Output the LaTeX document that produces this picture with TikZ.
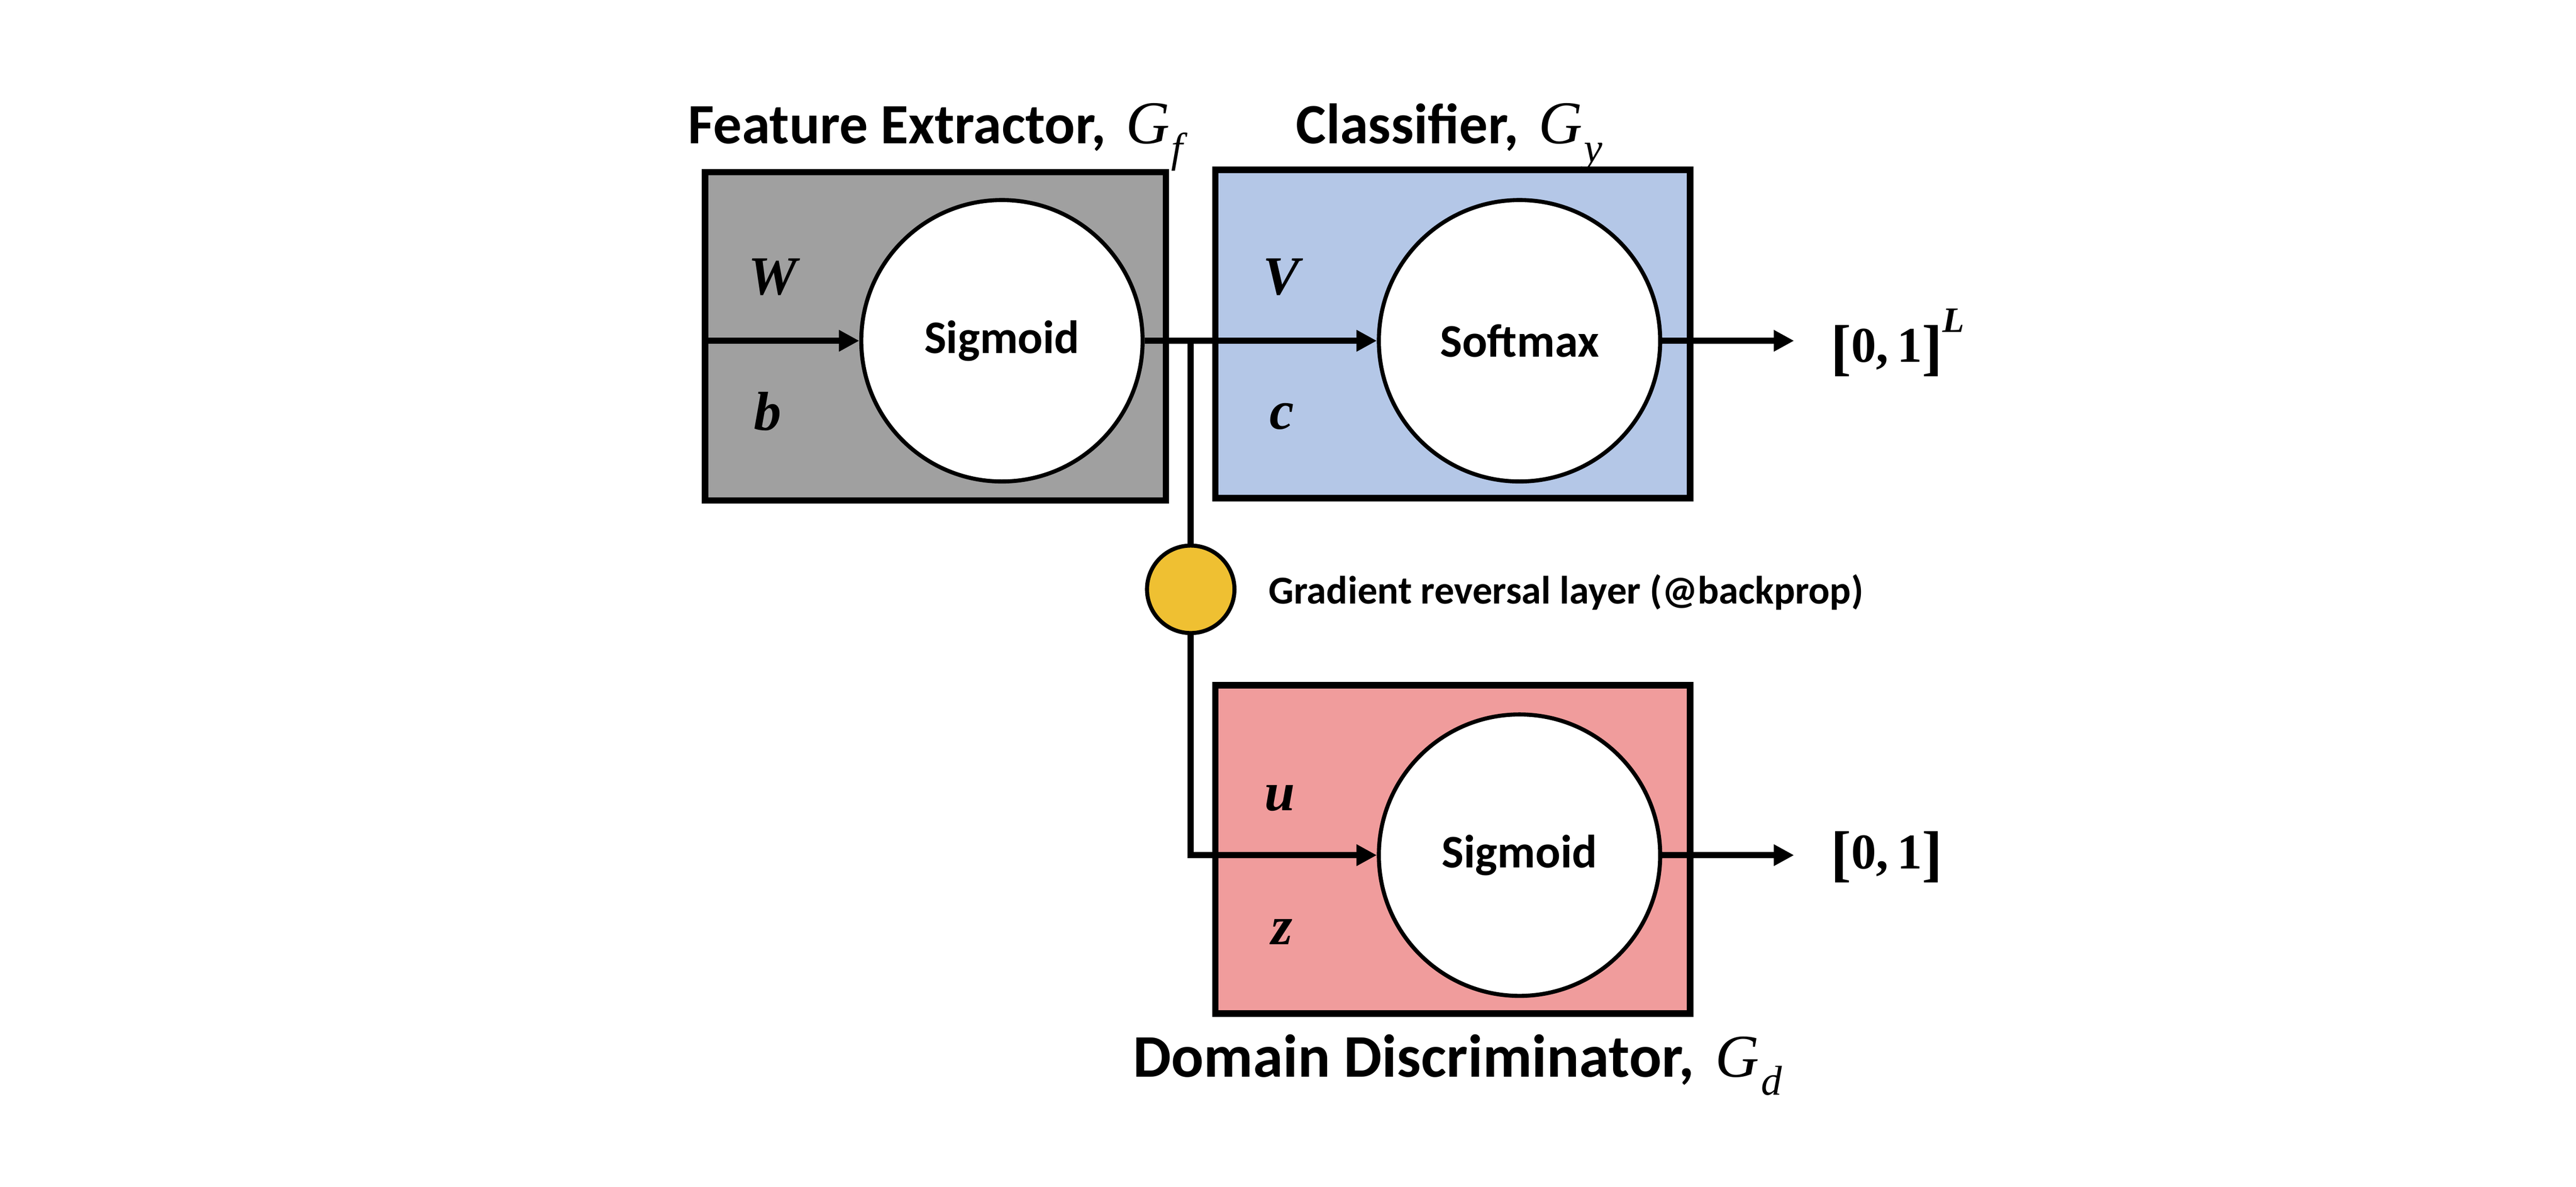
\documentclass[tikz,border=0pt]{standalone}
\usepackage{fontspec}
\setmainfont{Carlito}
\newfontfamily\cambria{Liberation Serif}
\usetikzlibrary{arrows.meta}

\definecolor{fegray}{HTML}{A0A0A0}
\definecolor{clblue}{HTML}{B4C7E7}
\definecolor{ddpink}{HTML}{F09C9C}
\definecolor{grlgold}{HTML}{EFC032}

\newcommand{\pvar}[1]{{\cambria\bfseries\itshape #1}}
\newcommand{\gsub}[1]{\hspace{.12em}{\cambria\mdseries\itshape\fontsize{25.5}{25}\selectfont G\kern.03em\raisebox{-.3em}{\fontsize{17.5}{17}\selectfont #1}}}
\newcommand{\ivl}{{\cambria\bfseries\raisebox{-.12em}{\fontsize{26}{26}\selectfont[}0,\,1\raisebox{-.12em}{\fontsize{26}{26}\selectfont]}}}

\tikzset{
  block/.style={draw,line width=2.7pt,minimum width=7cm,minimum height=4.84cm,inner sep=0pt},
  unit/.style={circle,draw,line width=1.7pt,fill=white,minimum size=4.15cm,inner sep=0pt,
    font=\fontsize{19.6}{20}\selectfont\bfseries},
  conn/.style={line width=2.6pt},
  arr/.style={conn,-{Triangle[length=0.3cm,width=0.3cm]}},
  title/.style={anchor=base,font=\fontsize{23.9}{26}\selectfont\bfseries},
  param/.style={anchor=base,font=\fontsize{23}{25}\selectfont},
  outlbl/.style={anchor=west,font=\fontsize{21}{22}\selectfont},
}

\begin{document}
\begin{tikzpicture}
\useasboundingbox (0,0) rectangle (38,17.5);
% blocks
\node[block,fill=fegray,minimum width=6.8cm] (fe) at (13.80,12.54) {};
\node[block,fill=clblue] (cl) at (21.43,12.575) {};
\node[block,fill=ddpink] (dd) at (21.43,4.975) {};
\node[title] (fet) at (13.8,15.38) {Feature Extractor, \gsub{f}};
\node[title] (clt) at (21.38,15.38) {Classifier, \gsub{y}};
\node[title,font=\fontsize{25.4}{27}\selectfont\bfseries] (ddt) at (21.5,1.62) {Domain Discriminator, \gsub{d}};
% units
\node[unit] (sig1) at (14.78,12.475) {Sigmoid};
\node[unit] (soft) at (22.415,12.475) {Softmax};
\node[unit] (sig2) at (22.415,4.89) {Sigmoid};
\node[circle,draw,line width=1.7pt,fill=grlgold,minimum size=1.29cm,inner sep=0pt] (grl) at (17.565,8.81) {};
\node[anchor=base west,font=\fontsize{16.6}{18}\selectfont\bfseries] (grlt) at (18.59,8.595) {Gradient reversal layer (@backprop)};
% parameters
\node[param] (w) at (11.395,13.16) {\pvar{W}};
\node[param] (b) at (11.325,11.16) {\pvar{b}};
\node[param] (v) at (18.9,13.16) {\pvar{V}};
\node[param] (c) at (18.91,11.17) {\pvar{c}};
\node[param] (u) at (18.875,5.55) {\pvar{u}};
\node[param] (z) at (18.91,3.57) {\pvar{z}};
% outputs
\node[outlbl] (yl) at (26.88,12.45) {\ivl\raisebox{.6em}{\cambria\bfseries\itshape\fontsize{15}{15}\selectfont L}};
\node[outlbl] (dl) at (26.88,4.86) {\ivl};
\coordinate (jn) at (17.565,12.475);
\coordinate (yend) at (26.465,12.475);
\coordinate (dend) at (26.465,4.89);
% connectors
\draw[arr] (fe.west |- sig1) -- (sig1.west);
\draw[arr] (sig1.east) -- (soft.west);
\draw[conn] (jn) -- (grl.north);
\draw[arr] (grl.south) |- (sig2.west);
\draw[arr] (soft.east) -- (yend);
\draw[arr] (sig2.east) -- (dend);
\end{tikzpicture}
\end{document}
